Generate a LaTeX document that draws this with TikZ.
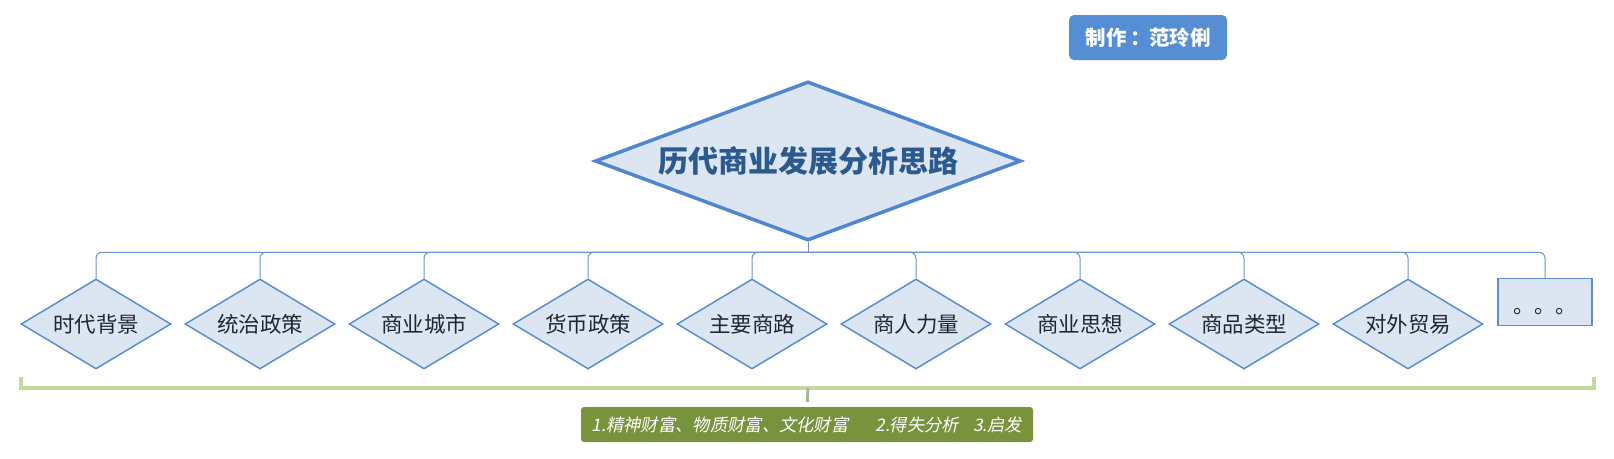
\documentclass[tikz,border=0pt]{standalone}
\usepackage{fontspec}
\usetikzlibrary{shapes.geometric,calc}
\newfontfamily\cjk{Noto Sans CJK SC}
\newfontfamily\cjkit{Noto Sans CJK SC}[FakeSlant=0.2]
\definecolor{rootblue}{HTML}{4F86CF}
\definecolor{subblue}{HTML}{5B8DD2}
\definecolor{lightfill}{HTML}{DCE6F2}
\definecolor{roottext}{HTML}{2D5A8E}
\definecolor{subtext}{HTML}{1F2633}
\definecolor{connblue}{HTML}{6A93CF}
\definecolor{bracketgreen}{HTML}{C5D8A0}
\definecolor{tickgreen}{HTML}{A8B890}
\definecolor{olive}{HTML}{77933C}
\definecolor{titleblue}{HTML}{558ED5}
\begin{document}
\begin{tikzpicture}[x=1pt,y=-1pt,
  rootd/.style={diamond, draw=rootblue, line width=3.5pt, fill=lightfill, aspect=2.65,
    minimum width=426pt, minimum height=159pt, inner sep=0pt,
    font=\cjk\bfseries\fontsize{30}{30}\selectfont, text=roottext},
  subd/.style={diamond, draw=subblue, line width=1.5pt, fill=lightfill, aspect=1.65,
    minimum width=150pt, minimum height=90pt, inner sep=0pt,
    font=\cjk\fontsize{21.5}{21.5}\selectfont, text=subtext},
  dotbox/.style={rectangle, draw=subblue, line width=1.5pt, fill=lightfill,
    minimum width=94pt, minimum height=47pt, inner sep=0pt,
    font=\cjk\fontsize{21}{21}\selectfont, text=subtext},
  conn/.style={draw=connblue, line width=1pt, rounded corners=6pt},
  bracket/.style={draw=bracketgreen, line width=4pt},
  tickline/.style={draw=tickgreen, line width=3pt},
  labelbox/.style={fill=olive, rounded corners=3pt, minimum width=452pt, minimum height=35pt,
    inner sep=0pt, text=white, font=\cjkit\fontsize{17.3}{17.3}\selectfont},
  titlebox/.style={fill=titleblue, rounded corners=5pt, minimum width=158pt, minimum height=45pt,
    inner sep=0pt, text=white, font=\cjk\bfseries\fontsize{20.5}{20.5}\selectfont}
]
\useasboundingbox (0,0) rectangle (1614,458);

\node[titlebox] (title) at (1148,37.5) {制作\kern4pt：\kern-2pt范玲俐};

\node[rootd] (root) at (808,161) {历代商业发展分析思路};

\node[subd] (c1) at (96,324) {时代背景};
\node[subd] (c2) at (260,324) {统治政策};
\node[subd] (c3) at (424,324) {商业城市};
\node[subd] (c4) at (588,324) {货币政策};
\node[subd] (c5) at (752,324) {主要商路};
\node[subd] (c6) at (916,324) {商人力量};
\node[subd] (c7) at (1080,324) {商业思想};
\node[subd] (c8) at (1244,324) {商品类型};
\node[subd] (c9) at (1408,324) {对外贸易};
\node[dotbox] (c10) at (1545,302) {\raisebox{-11pt}[0pt][0pt]{。。。}};

\coordinate (bus) at ($(root.south)+(0,10)$);
\draw[draw=connblue, line width=1pt] (root.south) -- (bus);
\foreach \c in {c1,c2,c3,c4,c5,c6,c7,c8,c9,c10}
  \draw[conn] (bus) -| (\c.north);

\coordinate (bl) at (21,377);
\coordinate (bm) at (808,388);
\coordinate (br) at (1594,377);
\draw[bracket] (bl) |- (bm) -| (br);

\node[labelbox] (lab) at (807,424.5) {1.精神财富、物质财富、文化财富\hspace{27pt}2.得失分析\hspace{14pt}3.启发};
\draw[tickline, shorten >=5pt] (bm) -- (lab.north);
\end{tikzpicture}
\end{document}
